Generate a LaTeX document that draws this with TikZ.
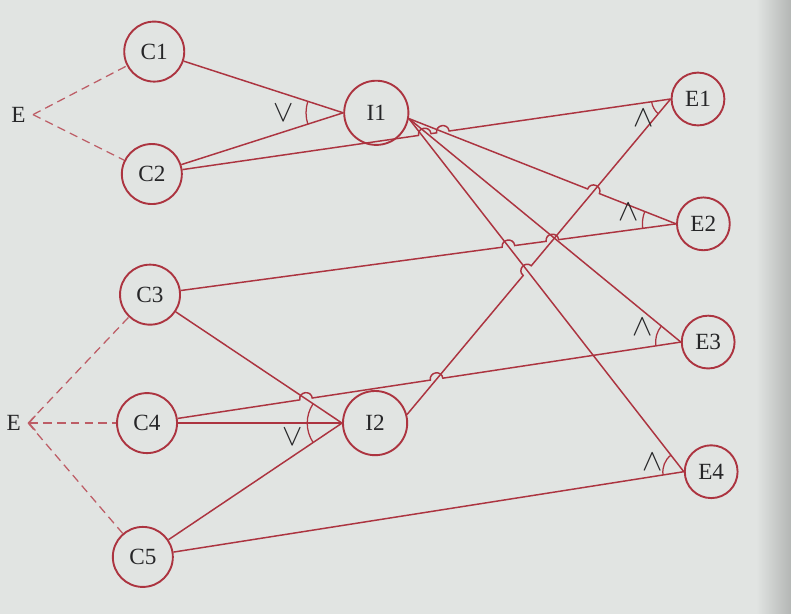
\documentclass[tikz,border=0pt]{standalone}
\usepackage{fontspec}
\setmainfont{Liberation Serif}
\usetikzlibrary{positioning,calc,angles,arrows.meta}
\definecolor{inkred}{RGB}{172,52,64}
\definecolor{paper}{RGB}{225,228,226}
\definecolor{print}{RGB}{38,38,40}
\tikzset{
	cause/.style={
		circle,
		line width=0.9pt,
		draw=inkred,
		text=print,
		minimum size=1cm
	},
	inter/.style={
		cause,
		minimum size=1.07cm
	},
	effect/.style={
		cause,
		minimum size=0.88cm
	},
	wire/.style={
		draw=inkred,
		line width=0.7pt
	},
	excl/.style={
		draw=inkred!80,
		line width=0.6pt,
		dash pattern=on 4pt off 2.5pt
	},
	gate/.style={
		text=print,
		font=\Large
	},
	joint/.style={
		draw=inkred,
		line width=0.6pt
	},
	jump/.style n args={3}{
		insert path={-- ($(#1)!3pt!(#2)$) to[bend left=90,looseness=1.7] ($(#1)!3pt!(#3)$)}
	},
}

\begin{document}
\begin{tikzpicture}[font=\fontsize{11}{13}\selectfont]
	\fill[paper] (0,0) rectangle (13.18,10.23);
	\shade[left color=paper, right color=paper!80!black] (12.6,0) rectangle (13.18,10.23);
	\useasboundingbox (0,0) rectangle (13.18,10.23);
	% causes, or-nodes, effects
	\node[cause] (C1) at (2.57,9.37) {C1};
	\node[cause] (C2) at (2.53,7.33) {C2};
	\node[cause] (C3) at (2.50,5.32) {C3};
	\node[cause] (C4) at (2.45,3.18) {C4};
	\node[cause] (C5) at (2.38,0.95) {C5};
	\node[inter] (I1) at (6.27,8.35) {I1};
	\node[inter] (I2) at (6.25,3.18) {I2};
	\node[effect] (E1) at (11.63,8.58) {E1};
	\node[effect] (E2) at (11.72,6.50) {E2};
	\node[effect] (E3) at (11.80,4.53) {E3};
	\node[effect] (E4) at (11.85,2.37) {E4};
	\coordinate (I1w) at (I1.west);
	\coordinate (I1o) at (I1.-10);
	\coordinate (I2w) at (I2.west);
	\coordinate (I2o) at (I2.15);
	\coordinate (E1w) at (E1.west);
	\coordinate (E2w) at (E2.west);
	\coordinate (E3w) at (E3.west);
	\coordinate (E4w) at (E4.west);
	% crossings with a hop
	\coordinate (x1a) at (intersection of C2--E1w and I1o--E4w);
	\coordinate (x1b) at (intersection of C2--E1w and I1o--E3w);
	\coordinate (x1) at ($(x1a)!0.5!(x1b)$);
	\coordinate (x2) at (intersection of C2--E1w and I1o--E2w);
	\coordinate (x3) at (intersection of I1o--E2w and I2o--E1w);
	\coordinate (x4) at (intersection of C3--E2w and I1o--E4w);
	\coordinate (x5) at (intersection of C3--E2w and I2o--E1w);
	\coordinate (x6) at (intersection of I2o--E1w and I1o--E4w);
	\coordinate (x7) at (intersection of C4--E3w and C3--I2w);
	\coordinate (x8) at (intersection of C4--E3w and I2o--E1w);
	% exclusive constraints
	\coordinate (etop) at (0.55,8.32);
	\coordinate (ebot) at (0.47,3.18);
	\node[text=print, left=0pt of etop] (Etop) {E};
	\node[text=print, left=0pt of ebot] (Ebot) {E};
	\draw[excl] (etop) -- (C1);
	\draw[excl] (etop) -- (C2);
	\draw[excl] (ebot) -- (C3);
	\draw[excl,{Straight Barb[length=3pt,width=7pt]}-] (ebot) -- (C4);
	\draw[excl] (ebot) -- (C5);
	% or inputs
	\draw[wire] (C1) -- (I1w);
	\draw[wire] (C2) -- (I1w);
	\draw[wire] (C3) -- (I2w);
	\draw[wire] (C4) -- (I2w);
	\draw[wire] (C5) -- (I2w);
	% and inputs
	\draw[wire] (C2) [jump={x1}{C2}{E1w}] [jump={x2}{C2}{E1w}] -- (E1w);
	\draw[wire] (I2o) [jump={x6}{I2o}{E1w}] -- (E1w);
	\draw[wire] (I1o) [jump={x3}{I1o}{E2w}] -- (E2w);
	\draw[wire] (C3) [jump={x4}{C3}{E2w}] [jump={x5}{C3}{E2w}] -- (E2w);
	\draw[wire] (I1o) -- (E3w);
	\draw[wire] (C4) [jump={x7}{C4}{E3w}] [jump={x8}{C4}{E3w}] -- (E3w);
	\draw[wire] (I1o) -- (E4w);
	\draw[wire] (C5) -- (E4w);
	% gate arcs and signs
	\pic[joint, angle radius=0.62cm] {angle=C1--I1w--C2};
	\pic[joint, angle radius=0.58cm] {angle=C3--I2w--C5};
	\pic[joint, angle radius=0.32cm] {angle=C2--E1w--I2o};
	\pic[joint, angle radius=0.56cm] {angle=I1o--E2w--C3};
	\pic[joint, angle radius=0.42cm] {angle=I1o--E3w--C4};
	\pic[joint, angle radius=0.35cm] {angle=I1o--E4w--C5};
	\node[gate] (or1) at (4.73,8.35) {$\vee$};
	\node[gate] (or2) at (4.88,2.95) {$\vee$};
	\node[gate] (and1) at (10.72,8.27) {$\wedge$};
	\node[gate] (and2) at (10.47,6.70) {$\wedge$};
	\node[gate] (and3) at (10.70,4.78) {$\wedge$};
	\node[gate] (and4) at (10.87,2.53) {$\wedge$};
\end{tikzpicture}
\end{document}
